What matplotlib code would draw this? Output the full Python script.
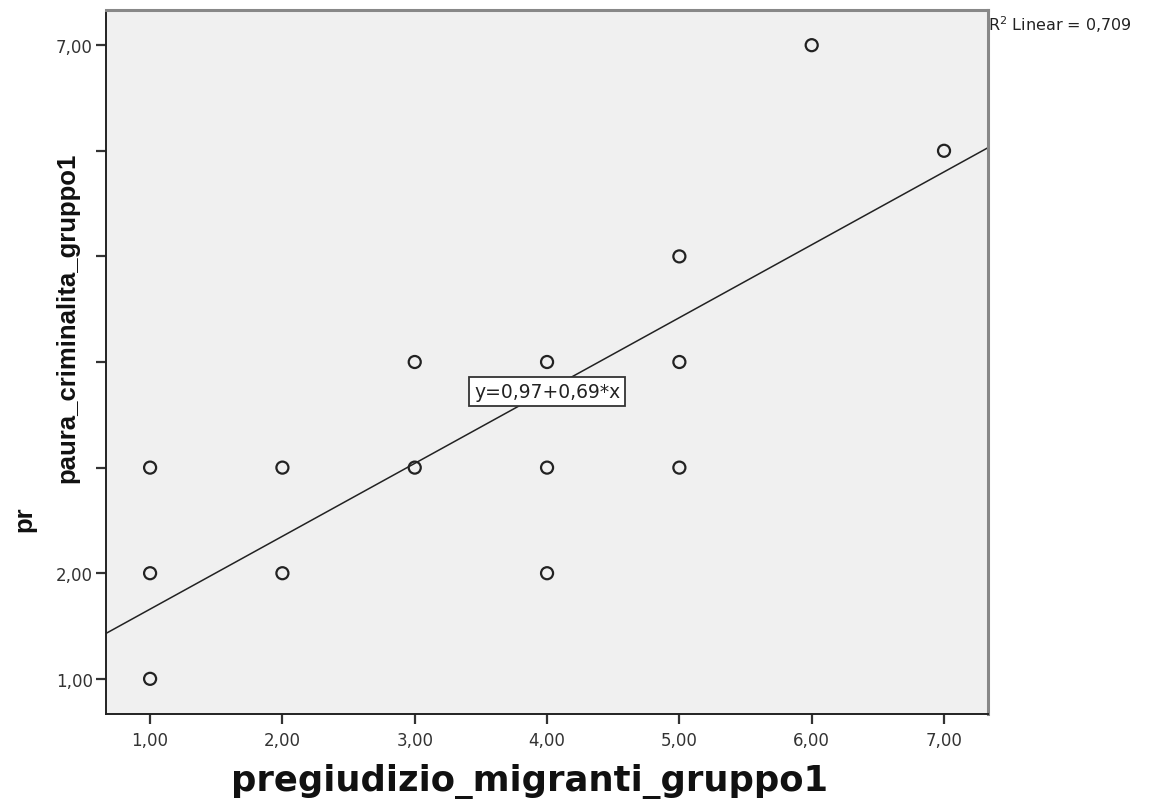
import matplotlib
matplotlib.use("Agg")
import matplotlib.pyplot as plt
import numpy as np

# data
pregiudizio = [1, 1, 1, 2, 2, 3, 3, 4, 4, 4, 5, 5, 5, 6, 7]
paura = [1, 2, 3, 2, 3, 3, 4, 2, 3, 4, 3, 4, 5, 7, 6]
intercept = 0.97
slope = 0.69
r2_text = "R$^2$ Linear = 0,709"
tick_vals = [1, 2, 3, 4, 5, 6, 7]
x_ticklabels = ["1,00", "2,00", "3,00", "4,00", "5,00", "6,00", "7,00"]
y_ticklabels = ["1,00", "2,00", "", "", "", "", "7,00"]

plt.rcParams['font.family'] = ['DejaVu Sans']
plt.rcParams['mathtext.fontset'] = 'dejavusans'

fig = plt.figure(figsize=(11.5, 8.04), dpi=100)
ax = fig.add_axes([0.0922, 0.1107, 0.7670, 0.8756])
ax.set_facecolor('#f0f0f0')

lo, hi = 0.667, 7.333
ax.set_xlim(lo, hi)
ax.set_ylim(lo, hi)

# regression line across the whole x range
xs = np.array([lo, hi])
ax.plot(xs, intercept + slope * xs, color='#222222', lw=1.1, zorder=2)

ax.scatter(pregiudizio, paura, s=75, facecolors='none', edgecolors='#222222',
           linewidths=1.6, zorder=3)

ax.text(4.0, 3.72, "y=0,97+0,69*x", ha='center', va='center', fontsize=13.5,
        color='#222222',
        bbox=dict(boxstyle='square,pad=0.25', fc='white', ec='#333333', lw=1.3), zorder=4)

ax.set_xticks(tick_vals)
ax.set_xticklabels(x_ticklabels)
ax.set_yticks(tick_vals)
ax.set_yticklabels(y_ticklabels)
ax.tick_params(axis='both', length=7, width=1.6, color='#333333', labelsize=12,
               labelcolor='#333333')
ax.tick_params(axis='x', pad=5)
ax.tick_params(axis='y', pad=2.5)

for s in ['left', 'bottom']:
    ax.spines[s].set_color('#222222')
    ax.spines[s].set_linewidth(1.4)
for s in ['top', 'right']:
    ax.spines[s].set_color('#888888')
    ax.spines[s].set_linewidth(2.2)

fig.text(530 / 1150, 1 - 782 / 804, "pregiudizio_migranti_gruppo1", ha='center', va='center',
         fontsize=25.5, fontweight='bold', color='#111111')

fig.text(67 / 1150, 1 - 318 / 804, "paura_criminalita_gruppo1", rotation=90,
         ha='center', va='center', fontsize=18.5, fontweight='bold',
         family='Liberation Sans', color='#111111')
fig.text(24 / 1150, 1 - 519 / 804, "pr", rotation=90,
         ha='center', va='center', fontsize=18.5, fontweight='bold',
         family='Liberation Sans', color='#111111')

fig.text(988 / 1150, 1 - 25 / 804, r2_text, ha='left', va='center', fontsize=11.5,
         color='#222222')

fig.savefig("out.png", dpi=100)
